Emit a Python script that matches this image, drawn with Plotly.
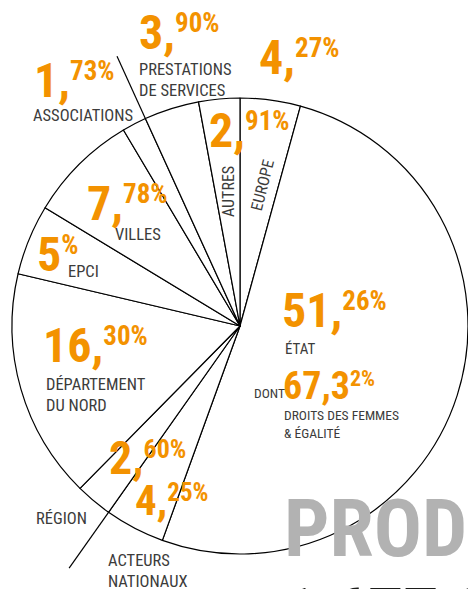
import math
import plotly.graph_objects as go

W, H = 468, 589

# ---- data (clockwise from 12 o'clock) ----
categories = ["EUROPE", "ÉTAT", "ACTEURS<br>NATIONAUX", "RÉGION", "DÉPARTEMENT<br>DU NORD",
              "EPCI", "VILLES", "ASSOCIATIONS", "PRESTATIONS<br>DE SERVICES", "AUTRES"]
shares = [4.27, 51.26, 4.25, 2.60, 16.30, 5.00, 7.78, 1.73, 3.90, 2.91]
etat_dont_share = 67.32
etat_dont_label = "DROITS DES FEMMES<br>& ÉGALITÉ"
title_text = "PRODU"
total_text = "1 677 000"

ORANGE = "#F39200"
GREY = "#3C3C3B"
LIGHT = "#B2B2B2"
FONT = "Roboto Condensed, Liberation Sans Narrow, DejaVu Sans Condensed, sans-serif"

# pie geometry (pixels)
CX, CY, R = 240, 326, 228


def split_share(v):
    if abs(v - round(v)) < 1e-9:
        return f"{int(round(v))}", "%"
    s = f"{v:.2f}".replace(".", ",")
    i, d = s.split(",")
    return i + ",", d + "%"


fig = go.Figure()

fig.add_trace(go.Pie(
    labels=[c.replace("<br>", " ") for c in categories],
    values=shares,
    sort=False,
    direction="clockwise",
    rotation=0,
    textinfo="none",
    hoverinfo="none",
    marker=dict(colors=["white"] * len(shares), line=dict(color="black", width=1.2)),
    domain=dict(x=[(CX - R) / W, 1], y=[(H - CY - R) / H, (H - CY + R) / H]),
    showlegend=False,
))

# extended boundary lines (after ACTEURS NATIONAUX and after ASSOCIATIONS)
cum = []
acc = 0.0
for v in shares:
    acc += v
    cum.append(acc)
total = sum(shares)
for idx in (2, 7):
    th = math.radians(360.0 * cum[idx] / total)
    xs = [CX + r * math.sin(th) for r in (R * 0.98, R * 1.3)]
    ys = [CY - r * math.cos(th) for r in (R * 0.98, R * 1.3)]
    fig.add_trace(go.Scatter(x=xs, y=ys, mode="lines", line=dict(color="black", width=1.2),
                             hoverinfo="skip", showlegend=False))


def ann(text, x, y, size, color, family=FONT, angle=0, xanchor="left", yanchor="middle"):
    fig.add_annotation(text=text, x=x, y=y, xref="x", yref="y", xanchor=xanchor, yanchor=yanchor,
                       align="left", showarrow=False, borderpad=0, textangle=angle,
                       font=dict(size=size, color=color, family=family))


def number(big, small, x, y, bs, ss):
    # big part followed by a raised smaller part; base size sets the raise
    base = 0.71 * (bs - ss) / 0.42 + 4
    txt = (f"<span style='font-size:{bs}px'><b>{big}</b></span>"
           f"<sup><span style='font-size:{ss}px'><b>{small}</b></span></sup>")
    ann(txt, x, y, base, ORANGE)


# label layout: (x, y, big size, small size, name x, name y, name size, name angle)
layout_pos = [
    (258, 57.5, 48, 27, 262, 185, 16, -76),     # EUROPE
    (281, 310, 48, 27, 284, 348.5, 15, 0),      # ÉTAT
    (134, 500, 43, 25, 107, 571, 16.5, 0),      # ACTEURS NATIONAUX
    (108, 458, 46, 26, 35, 518.5, 16.5, 0),     # RÉGION
    (42, 345, 48, 27, 45, 395, 16.5, 0),        # DÉPARTEMENT DU NORD
    (36, 254, 48, 27, 67, 271, 16.5, 0),        # EPCI
    (86, 203.5, 48, 27, 114, 234.5, 16.5, 0),   # VILLES
    (33, 80, 48, 27, 32, 115, 16.5, 0),         # ASSOCIATIONS
    (138, 32.5, 48, 27, 138, 79.5, 16.5, 0),    # PRESTATIONS
    (208, 130, 48, 27, 228, 192, 16, -90),      # AUTRES
]

for cat, v, (bx, by, bs, ss, nx, ny, ns, na) in zip(categories, shares, layout_pos):
    big, small = split_share(v)
    number(big, small, bx, by, bs, ss)
    if na != 0:
        ann(cat, nx, ny, ns, GREY, angle=na, xanchor="center")
    else:
        ann(cat, nx, ny, ns, GREY)

# "DONT 67,32%"
s = f"{etat_dont_share:.2f}".replace(".", ",")
ann("DONT", 253, 393, 13.5, GREY)
number(s[:-1], s[-1] + "%", 282, 386, 38, 22)
ann(etat_dont_label, 283, 424, 13.5, GREY)

# big grey title and total (cut off by the frame)
ann(f"<b>{title_text}</b>", 283, 529, 80, LIGHT)
ann(f"<b>{total_text}</b>", 280, 572, 70, "#1D1D1B", yanchor="top")

fig.update_layout(
    width=W, height=H,
    margin=dict(l=0, r=0, t=0, b=0),
    paper_bgcolor="white", plot_bgcolor="white",
    xaxis=dict(range=[0, W], visible=False, fixedrange=True, domain=[0, 1]),
    yaxis=dict(range=[H, 0], visible=False, fixedrange=True, domain=[0, 1]),
    showlegend=False,
)

fig.write_html("out.html", config={"displayModeBar": False},
               post_script="document.body.style.margin='0';document.body.style.overflow='hidden';")
